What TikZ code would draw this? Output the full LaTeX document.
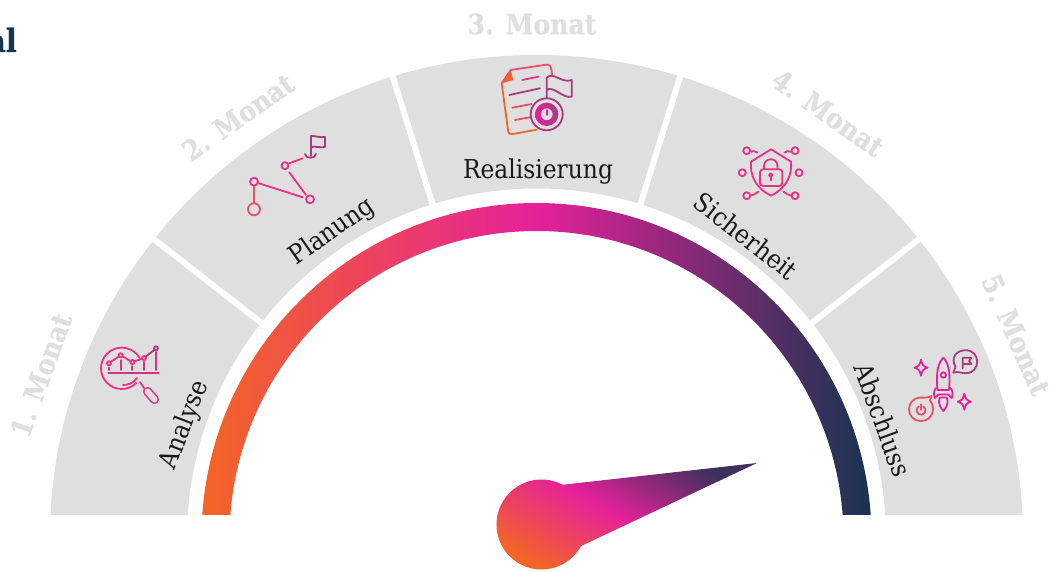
\documentclass[tikz,border=0pt]{standalone}
\usepackage{fontspec}
\newfontfamily\monatfont[BoldFeatures={FakeBold=0.8}]{DejaVu Serif Condensed}
\definecolor{sectorgray}{HTML}{DFDFDF}
\definecolor{gaugeorange}{HTML}{F36525}
\definecolor{gaugepink}{HTML}{E6219A}
\definecolor{gaugenavy}{HTML}{17344F}
\definecolor{iconred}{HTML}{EF4F62}
\definecolor{iconrose}{HTML}{EC3085}
\definecolor{iconplum}{HTML}{A83A80}
\tikzset{
  px/.style = {shift={(-536.5,538)},yscale=-1},
  monat/.style = {text=sectorgray, font=\monatfont\bfseries\fontsize{28}{32}\selectfont},
  phase/.style = {text=black!90, font=\monatfont\fontsize{26}{30}\selectfont},
  icon/.style = {line width=1.8pt, line cap=round, line join=round},
  gauge/.style = {left color=gaugeorange, right color=gaugenavy, middle color=gaugepink}
}

\begin{document}
\begin{tikzpicture}[x=1pt,y=1pt]
  \useasboundingbox (-536.5,-33) rectangle (517.5,538);
  \begin{scope}
    \clip (-540,23.5) rectangle (520,540);
    \fill[sectorgray,even odd rule] (0,0) ellipse (486.5 and 483) (0,0) circle (349.5);
    \foreach \a in {38,72.7,107.3,142} {%
      \draw[white,line width=6pt] (\a:340) -- (\a:495);
    }
    \shade[gauge,even odd rule] (0,0) circle (335) (0,0) circle (307);
  \end{scope}
  \coordinate (hub) at (5,13.5);
  \coordinate (tip) at (220.5,75);
  \shade[left color=gaugeorange,right color=gaugenavy!80!gaugepink,middle color=gaugepink,shading angle=150] (hub) ++(62:45) arc (62:331.4:45) -- (tip) -- cycle;

  \begin{scope}[px]
    \node[anchor=base east,inner sep=0pt,text=gaugenavy,font=\monatfont\bfseries\fontsize{32}{36}\selectfont] (title) at (17,52) {al};
    % months
    \node[monat,rotate=70] (m1) at (41,375) {1. Monat};
    \node[monat,rotate=35] (m2) at (238,117) {2. Monat};
    \node[monat] (m3) at (532,24) {3. Monat};
    \node[monat,rotate=-35] (m4) at (828,113) {4. Monat};
    \node[monat,rotate=-66] (m5) at (1016,335) {5. Monat};
    % phases
    \node[phase,rotate=69] (p1) at (185,425) {Analyse};
    \node[phase,rotate=35] (p2) at (332,232) {Planung};
    \node[phase] (p3) at (538,172) {Realisierung};
    \node[phase,rotate=-38] (p4) at (746,236) {Sicherheit};
    \node[phase,rotate=-70] (p5) at (883,420) {Abschluss};

    % Analyse icon
    \draw[icon,iconrose] (121.7,368.3) ++(45:20.7) arc (45:330:20.7);
    \draw[icon,iconrose] (123,385) .. controls (128,385) and (134,383) .. (137,378);
    \draw[icon,iconrose] (140,382) -- (144,388);
    \draw[icon,iconrose,double=sectorgray,double distance=6pt,line width=1.6pt] (147.5,391.5) -- (154.5,399.5);
    \foreach \x/\y in {109/363.3,120.7/355.3,132.3/362,144/358} {%
      \draw[icon,iconrose] (\x,\y) circle (2);
    }
    \draw[icon,iconplum] (156,348.3) circle (2);
    \draw[icon,iconrose] (110.5,362) -- (119,356.5) (122.5,356.3) -- (130.5,361) (134.2,361.4) -- (142,358.7);
    \draw[icon,iconplum] (145.5,356.8) -- (154.5,349.8);
    \foreach \x/\y in {109/367.5,120.7/360,132.3/366,144/361.5,156/352} {%
      \draw[icon,iconrose!70!iconplum] (\x,\y) -- (\x,370);
    }
    \draw[icon,iconrose!60!iconplum] (108.3,372.7) -- (158.7,372.7);

    % Planung icon
    \draw[icon,iconred] (254,209.3) circle (6);
    \draw[icon,iconrose] (254,181.7) circle (4) (285,165.7) circle (3.5) (310,199.3) circle (4);
    \draw[icon,iconred] (254.3,186.5) -- (254.3,203);
    \draw[icon,iconrose] (259,183.3) -- (302.7,197.3) (289.3,172.3) -- (306,195) (289.3,163.3) -- (302.7,158.3);
    \draw[icon,iconplum] (305,154) .. controls (305,159) and (316,159) .. (316,154);
    \draw[icon,iconplum] (311,156) -- (311,136) .. controls (315,135.5) and (319,138) .. (325,137) -- (325,147) .. controls (320,148) and (316,146) .. (311,147);

    % Realisierung icon
    \fill[gaugeorange] (501.7,83.3) -- (510.7,70) -- (513.3,80) -- cycle;
    \draw[icon,iconred] (501.7,83.3) -- (510.7,70) -- (546,64.7) .. controls (550,64) and (551.5,66) .. (552,75);
    \draw[icon,gaugeorange] (501.7,83.3) -- (508,130) .. controls (508.5,134) and (510,134.5) .. (513,134) -- (536.7,129.7);
    \draw[icon,iconrose] (522.3,80) -- (538.3,76.7);
    \draw[icon,iconplum] (509.3,95) -- (540,88.3);
    \draw[icon,iconred] (512.3,107.7) -- (531.7,104) (515,120) -- (530,117.3);
    \draw[icon,iconplum] (546.7,98) -- (546.7,77.7) .. controls (553,71) and (562,84) .. (571.7,80) -- (571.7,96.7) .. controls (563,99) and (553,85) .. (546.7,90);
    \draw[icon,iconplum] (546.7,114.3) circle (16);
    \shade[left color=gaugepink,right color=iconplum,even odd rule] (546.7,114.3) circle (11.7) (546.7,114.3) circle (6);
    \draw[icon,gaugepink] (546.7,110) -- (546.7,115);

    % Sicherheit icon
    \draw[icon,iconrose] (771,149.3) -- (791,161.7) .. controls (792,174) and (788,187) .. (771,195.7) .. controls (754,187) and (750,174) .. (751,161.7) -- cycle;
    \draw[icon,iconrose,rounded corners=3pt] (760,169.3) rectangle (782.3,186);
    \draw[icon,iconrose] (764,169) -- (764,166) .. controls (764,157) and (777.5,157) .. (777.5,166) -- (777.5,169);
    \draw[icon,iconrose] (770.7,175) circle (1.8);
    \draw[icon,iconrose] (770.7,177) -- (770.7,180.5);
    \foreach \x/\y in {746.7/150.7,795/150.7,742.3/172.7,799/172.7,746.7/195.7,795/195.7} {%
      \draw[icon,iconrose] (\x,\y) circle (3.5);
    }
    \draw[icon,iconrose] (751,151.7) .. controls (753,150.5) and (755.5,151) .. (757.3,152.7);
    \draw[icon,iconrose] (790.7,151.7) .. controls (788.7,150.5) and (786.2,151) .. (784.4,152.7);
    \draw[icon,iconrose] (751,195.5) .. controls (753.5,195.5) and (756,193) .. (758.5,191.5);
    \draw[icon,iconrose] (790.7,195.5) .. controls (788.2,195.5) and (785.7,193) .. (783.2,191.5);

    % Abschluss icon
    \draw[icon,gaugepink] (943.3,357.7) .. controls (939,362) and (935.5,370) .. (937.5,390) -- (949,390) .. controls (951,370) and (947.5,362) .. (943.3,357.7) -- cycle;
    \draw[icon,gaugepink] (943.3,375) circle (2.7);
    \draw[icon,gaugepink] (936,388) .. controls (933.5,391) and (933.5,395) .. (935,398) -- (938.3,394.5) -- (948.3,394.5) -- (951.7,398) .. controls (953,395) and (953,391) .. (950.5,388);
    \draw[icon,gaugepink] (943.3,411) .. controls (938,405) and (938.5,400) .. (940,397.5) -- (946.6,397.5) .. controls (948,400) and (948.6,405) .. (943.3,411) -- cycle;
    \draw[icon,iconred] (931.5,396) -- (930,400.5) .. controls (936,407) and (933,421) .. (921,421) .. controls (905,421) and (905,397.6) .. (921,397.6) .. controls (924,397.6) and (928,398) .. (931.5,396) -- cycle;
    \draw[icon,iconred] (921,410.3) ++(-60:4.5) arc (-60:240:4.5);
    \draw[icon,iconred] (921,404.3) -- (921,410);
    \draw[icon,iconplum] (953.3,372.7) -- (955.5,367) .. controls (950,357) and (957,350.2) .. (965.7,350.2) .. controls (981,350.2) and (981,373.2) .. (965.7,373.2) .. controls (961,373.2) and (957,371) .. (953.3,372.7) -- cycle;
    \draw[icon,iconplum] (962.7,368.3) -- (962.7,357.7) -- (971.5,357.7) -- (969,361) -- (971.5,364) -- (962.7,364);
    \foreach \x/\y in {921/367.7,964.3/401.7} {%
      \draw[icon,gaugepink] (\x,\y-8) .. controls (\x+1,\y-3) and (\x+2,\y-1.5) .. (\x+6.5,\y) .. controls (\x+2,\y+1.5) and (\x+1,\y+3) .. (\x,\y+8) .. controls (\x-1,\y+3) and (\x-2,\y+1.5) .. (\x-6.5,\y) .. controls (\x-2,\y-1.5) and (\x-1,\y-3) .. (\x,\y-8) -- cycle;
    }
  \end{scope}
\end{tikzpicture}
\end{document}
